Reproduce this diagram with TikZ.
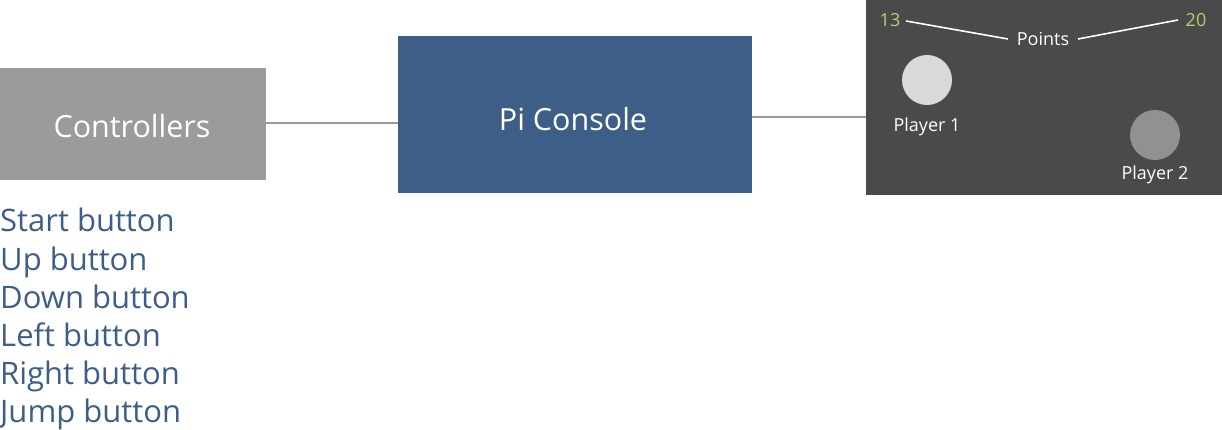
\documentclass[tikz,border=0pt]{standalone}
\usepackage{fontspec}
\setmainfont[Ligatures={NoCommon}]{Open Sans}
\definecolor{ctrlgray}{HTML}{9B9B9B}
\definecolor{piblue}{HTML}{3D5E87}
\definecolor{paneldark}{HTML}{4A4A4A}
\definecolor{linegray}{HTML}{999999}
\definecolor{scoregreen}{HTML}{A8D672}
\definecolor{p1fill}{HTML}{D9D9D9}
\definecolor{p2fill}{HTML}{919191}
\begin{document}
\begin{tikzpicture}[x=1pt,y=-1pt,
  box/.style={draw=none,inner sep=0pt,outer sep=0pt,anchor=north west},
  boxtext/.style={anchor=base,inner sep=0pt,text=white,font=\fontsize{30.5}{34}\selectfont},
  conn/.style={draw=linegray,line width=1.8pt},
  listitem/.style={anchor=base west,inner sep=0pt,text=piblue,font=\fontsize{31}{36}\selectfont},
  small/.style={anchor=base,inner sep=0pt,text=white,font=\fontsize{18}{20}\selectfont},
  score/.style={anchor=base,inner sep=0pt,text=scoregreen,font=\fontsize{18}{20}\selectfont},
  player/.style={circle,draw=none,minimum size=50pt,inner sep=0pt},
  pline/.style={draw=white,line width=1.6pt}]
\useasboundingbox (0,0) rectangle (1222,430);
% boxes
\node[box,fill=ctrlgray,minimum width=266pt,minimum height=112pt] (ctrl) at (0,68) {};
\node[boxtext] (ctrlt) at (132,138) {Controllers};
\node[box,fill=piblue,minimum width=354pt,minimum height=157pt] (pi) at (398,36) {};
\node[boxtext] (pit) at (573,131) {Pi Console};
\node[box,fill=paneldark,minimum width=356pt,minimum height=195pt] (panel) at (866,0) {};
% connectors
\coordinate (c1) at (266,123);
\coordinate (c2) at (398,123);
\coordinate (c3) at (752,117);
\coordinate (c4) at (866,117);
\draw[conn] (c1) -- (c2);
\draw[conn] (c3) -- (c4);
% panel content
\node[score] (s13) at (890,27) {13};
\node[score] (s20) at (1196,27) {20};
\node[small] (pts) at (1043,46) {Points};
\coordinate (l1a) at (906,21);
\coordinate (l1b) at (1008,39);
\coordinate (l2a) at (1078,39);
\coordinate (l2b) at (1178,20);
\draw[pline] (l1a) -- (l1b);
\draw[pline] (l2a) -- (l2b);
\node[player,fill=p1fill] (p1) at (927,80) {};
\node[small] (p1t) at (927,132) {Player 1};
\node[player,fill=p2fill] (p2) at (1155,135) {};
\node[small] (p2t) at (1155,180) {Player 2};
% list
\node[listitem] (b1) at (0,232) {Start button};
\node[listitem] (b2) at (0,270) {Up button};
\node[listitem] (b3) at (0,308) {Down button};
\node[listitem] (b4) at (0,346) {Left button};
\node[listitem] (b5) at (0,384) {Right button};
\node[listitem] (b6) at (0,422) {Jump button};
\end{tikzpicture}
\end{document}
